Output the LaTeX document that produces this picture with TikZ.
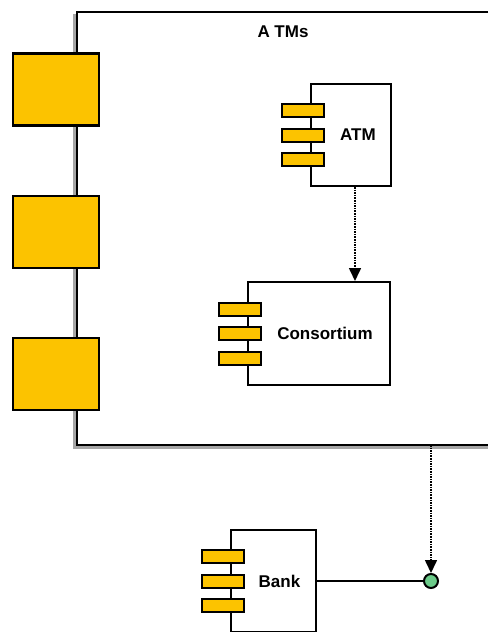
\documentclass[tikz,border=0pt]{standalone}
\usepackage{fontspec}
\setmainfont{Liberation Sans}
\usetikzlibrary{arrows.meta}

\definecolor{portyellow}{HTML}{FCC300}
\definecolor{lollygreen}{HTML}{6CCB8A}

\tikzset{
  port/.style={draw=black, fill=portyellow, line width=2.4pt, minimum width=86pt, minimum height=72pt, inner sep=0pt},
  compbox/.style={draw=black, fill=white, line width=2pt, inner sep=0pt},
  bar/.style={draw=black, fill=portyellow, line width=2pt, minimum width=42pt, minimum height=13pt, inner sep=0pt},
  complabel/.style={font=\bfseries\fontsize{17}{19}\selectfont},
  dep/.style={densely dotted, line width=1.6pt, -{Triangle[width=12pt,length=13pt]}},
}

% three bars on the left side of a component
\newcommand{\compbars}[1]{%
  \foreach \dy in {24.5,0,-24.5}
    \node[bar] at ([xshift=-7pt,yshift=\dy pt]#1.west) {};
}

\begin{document}
\begin{tikzpicture}[x=1pt,y=-1pt]
    \useasboundingbox (0,0) rectangle (488,632);

    % ATMs frame, shadow first
    \draw[gray!70, line width=3.5pt] (74.5,14) -- (74.5,447.5) -- (488,447.5);
    \draw[black, line width=2.4pt] (488,12) -- (77,12) -- (77,445) -- (488,445);
    \node[complabel] (atmstitle) at (283,32) {A TMs};

    \foreach \py [count=\i] in {89.5,232,374}
        \node[port] (port\i) at (56,\py) {};

    % components
    \node[compbox, minimum width=80pt, minimum height=102pt] (atm) at (351,135) {};
    \compbars{atm}
    \node[complabel] (atmlabel) at ([xshift=7pt]atm.center) {ATM};

    \node[compbox, minimum width=142pt, minimum height=103pt] (cons) at (319,333.5) {};
    \compbars{cons}
    \node[complabel] (conslabel) at ([xshift=6pt]cons.center) {Consortium};

    \node[compbox, minimum width=85pt, minimum height=102pt] (bank) at (273.5,581) {};
    \compbars{bank}
    \node[complabel] (banklabel) at ([xshift=6pt]bank.center) {Bank};

    % interface
    \node[circle, draw=black, fill=lollygreen, line width=2pt, minimum size=14pt, inner sep=0pt] (lolly) at (431,581) {};
    \coordinate (atmsframe) at (431,445);

    \draw[dep] ([xshift=4pt]atm.south) -- ([xshift=4pt]atm.south |- cons.north);
    \draw[line width=2pt] (bank.east) -- (lolly.west);
    \draw[dep] (atmsframe) -- (lolly.north);
\end{tikzpicture}
\end{document}
